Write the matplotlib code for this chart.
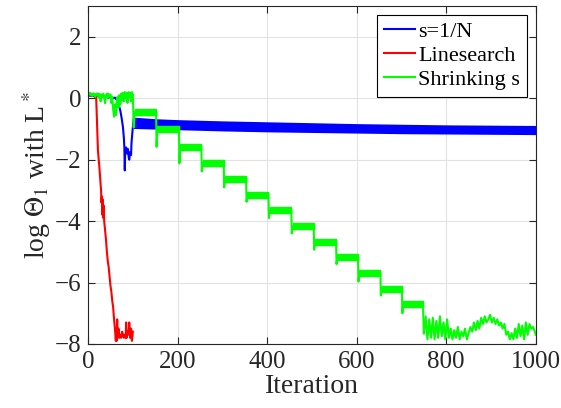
import matplotlib
matplotlib.use('Agg')
import matplotlib.pyplot as plt
import numpy as np

# s=1/N : early part read point by point, then a thick band (upper/lower envelope)
blue_it = [0, 5, 10, 15, 20, 25, 30, 35, 40, 45, 50, 55, 60, 64, 68, 72, 75, 78, 80, 81,
           82, 83, 85, 87, 89, 91, 92, 94, 96, 97, 99, 101, 102]
blue_val = [0.1, 0.08, 0.1, 0.05, 0.1, 0.05, 0.08, 0.04, 0.07, 0.02, 0.05, 0.0, 0.02, -0.05,
            -0.2, -0.4, -0.65, -0.95, -1.3, -1.6, -2.35, -1.7, -1.6, -1.8, -1.65, -1.95, -2.0,
            -1.75, -1.85, -1.45, -1.1, -0.8, -0.65]
band_it = [102, 150, 200, 300, 400, 500, 600, 700, 800, 900, 1000]
band_hi = [-0.65, -0.7, -0.73, -0.77, -0.8, -0.83, -0.86, -0.88, -0.9, -0.91, -0.92]
band_lo = [-0.95, -0.97, -0.99, -1.03, -1.06, -1.08, -1.1, -1.12, -1.13, -1.14, -1.15]

# Linesearch
red_it = [0, 5, 10, 15, 18, 20, 22, 25, 27, 29, 30, 31, 32, 33, 34, 35, 36, 38, 40, 42, 44,
          46, 48, 50, 52, 54, 56, 58, 60, 62, 63, 64, 65, 66, 68, 70, 72, 74, 76, 78, 80, 82,
          84, 85, 86, 88, 90, 92, 94, 96, 98, 100]
red_val = [0.1, 0.12, 0.08, 0.1, 0.05, -0.8, -1.7, -2.2, -2.6, -3.0, -3.4, -3.2, -3.8, -3.3,
           -3.9, -3.5, -4.0, -4.3, -4.6, -5.0, -5.3, -5.5, -5.8, -6.1, -6.3, -6.6, -6.8, -7.2,
           -7.5, -7.9, -7.5, -7.9, -7.2, -7.8, -7.5, -7.8, -7.7, -7.8, -7.6, -7.7, -7.8, -7.7,
           -7.8, -7.3, -7.8, -7.6, -7.7, -7.3, -7.8, -7.5, -7.9, -7.6]

# Shrinking s : noisy start, staircase, noisy end
green_start_it = list(range(0, 101, 2))
green_start = [0.15, 0.12, 0.18, 0.1, 0.15, 0.08, 0.16, 0.12, 0.05, 0.15, 0.1, 0.16, 0.02,
               0.14, -0.1, 0.12, 0.05, 0.15, 0.0, -0.16, 0.1, 0.15, 0.02, 0.14, 0.06, 0.12,
               -0.15, 0.05, -0.35, -0.6, -0.2, -0.55, -0.1, 0.05, -0.3, 0.1, -0.2, 0.15, -0.05,
               0.18, -0.1, 0.2, 0.0, 0.18, -0.15, 0.2, 0.05, 0.18, -0.1, 0.2, 0.1]
step_it = [101, 152, 203, 253, 303, 353, 403, 454, 504, 554, 603, 653, 701, 748]
step_level = [-0.45, -1.0, -1.58, -2.1, -2.63, -3.15, -3.65, -4.17, -4.68, -5.18, -5.7,
              -6.2, -6.7]
step_spike = [-0.95, -1.58, -2.12, -2.38, -2.9, -3.37, -3.9, -4.4, -4.93, -5.4, -5.97,
              -6.42, -7.0]
band_half = 0.1
green_end_it = list(range(750, 1000, 4)) + [1000]
green_end = [-7.65, -7.1, -7.85, -7.2, -7.8, -7.15, -7.85, -7.25, -7.8, -7.1, -7.75, -7.3,
             -7.85, -7.2, -7.8, -7.5, -7.85, -7.55, -7.8, -7.45, -7.85, -7.6, -7.75, -7.5,
             -7.85, -7.65, -7.45, -7.6, -7.3, -7.55, -7.25, -7.5, -7.15, -7.35, -7.1, -7.3,
             -7.2, -7.05, -7.3, -7.15, -7.35, -7.2, -7.4, -7.3, -7.5, -7.35, -7.7, -7.6,
             -7.85, -7.65, -7.85, -7.5, -7.8, -7.35, -7.75, -7.4, -7.85, -7.3, -7.7, -7.35,
             -7.5, -7.45, -7.6, -7.7]

plt.rcParams['font.family'] = ['Liberation Serif', 'DejaVu Serif']
plt.rcParams['mathtext.fontset'] = 'stix'

BLUE, RED, GREEN = '#0000ff', '#ff0000', '#00ff00'
fig = plt.figure(figsize=(5.61, 4.08), dpi=100)
ax = fig.add_axes([0.157, 0.157, 0.798, 0.828])
ax.set_axisbelow(True)

# blue
ax.plot(blue_it, blue_val, color=BLUE, lw=1.5)
ax.fill_between(band_it, band_hi, band_lo, color=BLUE, lw=1.5, edgecolor=BLUE)

# red
ax.plot(red_it, red_val, color=RED, lw=1.5)

# green: noisy start
ax.plot(green_start_it, green_start, color=GREEN, lw=1.5)
# green: staircase path through the spikes, plus thick band on each level
gx = [green_start_it[-1]]
gy = [green_start[-1]]
for k in range(len(step_level)):
    gx += [step_it[k] + 1, step_it[k] + 3, step_it[k + 1]]
    gy += [step_spike[k], step_level[k], step_level[k]]
    lev = step_level[k]
    ax.fill_between([step_it[k] + 3, step_it[k + 1]], [lev + band_half] * 2,
                    [lev - band_half] * 2, color=GREEN, lw=1, edgecolor=GREEN)
gx += [green_end_it[0]]
gy += [green_end[0]]
ax.plot(gx, gy, color=GREEN, lw=1.5)
ax.plot(green_end_it, green_end, color=GREEN, lw=1.5)

# legend handles
ax.plot([], [], color=BLUE, lw=1.5, label='s=1/N')
ax.plot([], [], color=RED, lw=1.5, label='Linesearch')
ax.plot([], [], color=GREEN, lw=1.5, label='Shrinking s')

ax.set_xlim(0, 1000)
ax.set_ylim(-8, 3)
ax.set_xticks(np.arange(0, 1001, 200))
ax.set_yticks(np.arange(-8, 3, 2))
ax.tick_params(direction='in', top=True, right=True, labelsize=18, length=5,
               color='#262626', labelcolor='#262626', pad=5)
ax.grid(True, color='#e2e2e2', lw=0.8)
for s in ax.spines.values():
    s.set_color('#262626')
    s.set_linewidth(0.8)
ax.set_xlabel('Iteration', fontsize=20, color='#262626', labelpad=1)
ax.set_ylabel(r'log $\Theta_1$ with L$^*$', fontsize=20, color='#262626', labelpad=1)

leg = ax.legend(loc='upper right', fontsize=16, handlelength=1.4, handletextpad=0.15,
                borderpad=0.3, labelspacing=0.15, borderaxespad=0.4, fancybox=False,
                framealpha=1)
leg.get_frame().set_edgecolor('black')
leg.get_frame().set_linewidth(0.8)
fig.savefig('out.png', dpi=100)
